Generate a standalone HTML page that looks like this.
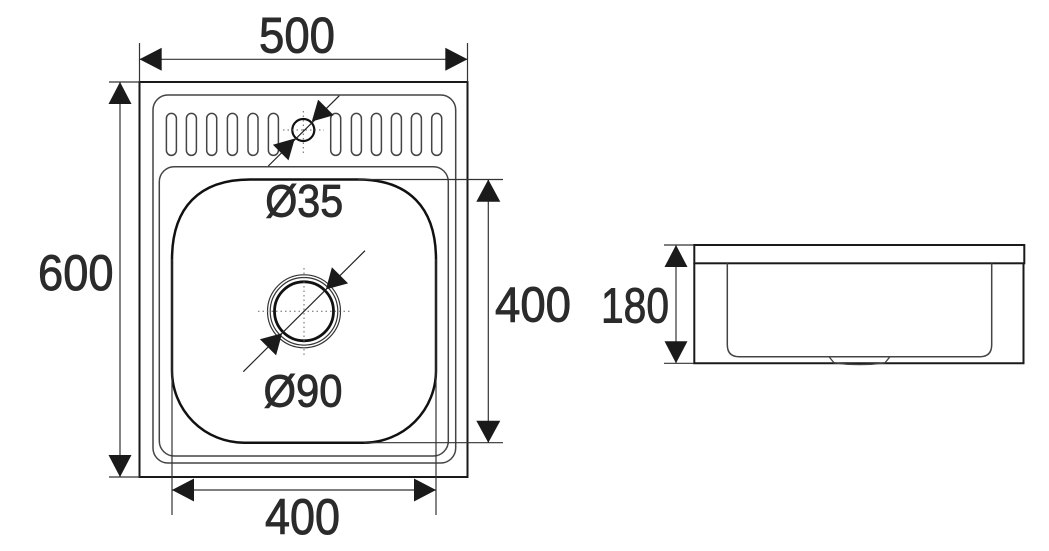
<!DOCTYPE html>
<html>
<head>
<meta charset="utf-8">
<style>
  html, body { margin: 0; padding: 0; background: #fff; }
  svg { display: block; }
  text { font-family: "Liberation Sans", "DejaVu Sans", sans-serif; fill: #2b2b2b; stroke: #2b2b2b; stroke-width: 0.9; }
</style>
</head>
<body>
<svg width="1049" height="551" viewBox="0 0 1049 551" xmlns="http://www.w3.org/2000/svg">
  <rect width="1049" height="551" fill="#fff"/>

  <g fill="none">
    <!-- outer sink body -->
    <rect x="139.5" y="82" width="328" height="395" stroke="#1a1a1a" stroke-width="2"/>
    <!-- rims -->
    <rect x="153" y="95" width="302.7" height="368" rx="15" stroke="#444" stroke-width="1.5"/>
    <rect x="159.3" y="166.7" width="289" height="289.3" rx="15" stroke="#444" stroke-width="1.5"/>

    <!-- slots -->
    <g stroke="#444" stroke-width="1.5">
      <rect x="166.4" y="113.4" width="10" height="42" rx="5"/>
      <rect x="186.4" y="113.4" width="10" height="42" rx="5"/>
      <rect x="206.7" y="113.4" width="10" height="42" rx="5"/>
      <rect x="227.4" y="113.4" width="10" height="42" rx="5"/>
      <rect x="248" y="113.4" width="10" height="42" rx="5"/>
      <rect x="268.4" y="113.4" width="10" height="42" rx="5"/>
      <rect x="330.7" y="113.4" width="10" height="42" rx="5"/>
      <rect x="351.4" y="113.4" width="10" height="42" rx="5"/>
      <rect x="371.4" y="113.4" width="10" height="42" rx="5"/>
      <rect x="391.4" y="113.4" width="10" height="42" rx="5"/>
      <rect x="411.4" y="113.4" width="10" height="42" rx="5"/>
      <rect x="431.7" y="113.4" width="10" height="42" rx="5"/>
    </g>

    <!-- bowl -->
    <path d="M172,259.5 C172,207.5 199.3,179.5 250,179.5 H358 C408.7,179.5 436,207.5 436,259.5 V370.7 A72,72 0 0 1 364,442.7 H244 A72,72 0 0 1 172,370.7 Z" stroke="#111" stroke-width="2.5"/>

    <!-- tap hole Ø35 -->
    <circle cx="303.3" cy="130" r="11" stroke="#111" stroke-width="2.2"/>
    <g stroke="#666" stroke-width="1" stroke-dasharray="1.5 3">
      <line x1="283" y1="130" x2="324" y2="130"/>
      <line x1="303.3" y1="111" x2="303.3" y2="153"/>
    </g>
    <line x1="268.3" y1="166" x2="339.3" y2="95.7" stroke="#222" stroke-width="1.2"/>

    <!-- drain Ø90 -->
    <circle cx="304" cy="311.3" r="36.5" stroke="#333" stroke-width="1.2"/>
    <circle cx="304" cy="311.3" r="33.8" stroke="#333" stroke-width="1.2"/>
    <circle cx="304" cy="311.3" r="29.5" stroke="#111" stroke-width="2.8"/>
    <g stroke="#666" stroke-width="1" stroke-dasharray="1.5 3">
      <line x1="258" y1="311.3" x2="352" y2="311.3"/>
      <line x1="304" y1="268" x2="304" y2="355"/>
    </g>
    <line x1="243.3" y1="371.7" x2="365" y2="250.7" stroke="#222" stroke-width="1.2"/>

    <!-- dimension lines & extension lines -->
    <g stroke="#333" stroke-width="1.2">
      <!-- 500 -->
      <line x1="139.5" y1="43" x2="139.5" y2="82"/>
      <line x1="467.5" y1="43" x2="467.5" y2="82"/>
      <line x1="139.5" y1="59.3" x2="467.5" y2="59.3"/>
      <!-- 600 -->
      <line x1="109" y1="82" x2="139.5" y2="82"/>
      <line x1="109" y1="477" x2="139.5" y2="477"/>
      <line x1="120" y1="82" x2="120" y2="477"/>
      <!-- 400 right -->
      <line x1="358" y1="179.5" x2="503" y2="179.5"/>
      <line x1="364" y1="442.7" x2="503" y2="442.7"/>
      <line x1="488.3" y1="179.5" x2="488.3" y2="442.7"/>
      <!-- 400 bottom -->
      <line x1="172" y1="259" x2="172" y2="515"/>
      <line x1="436" y1="259" x2="436" y2="515"/>
      <line x1="172" y1="490" x2="436" y2="490"/>
      <!-- 180 -->
      <line x1="664" y1="245" x2="694" y2="245"/>
      <line x1="664" y1="363.3" x2="694" y2="363.3"/>
      <line x1="676" y1="245" x2="676" y2="363.3"/>
    </g>

    <!-- side view -->
    <rect x="694.3" y="245" width="330" height="18.3" stroke="#1a1a1a" stroke-width="2"/>
    <path d="M694.3,263.3 V363.3 H1023.5 V263.3" stroke="#1a1a1a" stroke-width="2"/>
    <path d="M727.3,263.3 V344.7 Q727.3,356.7 739.3,356.7 H979.7 Q991.7,356.7 991.7,344.7 V263.3" stroke="#444" stroke-width="1.5"/>
    <path d="M829,356.7 L834,362.8 Q859.5,366.5 885,362.8 L890,356.7" stroke="#444" stroke-width="1.3"/>
  </g>

  <!-- arrowheads -->
  <g fill="#1a1a1a">
    <!-- 500 -->
    <polygon points="139.5,59.3 161.7,47.8 161.7,70.8"/>
    <polygon points="467.5,59.3 445.3,47.8 445.3,70.8"/>
    <!-- 600 -->
    <polygon points="120,82 108.5,104 131.5,104"/>
    <polygon points="120,477 108.5,455 131.5,455"/>
    <!-- 400 right -->
    <polygon points="488.3,179.5 476.3,201.7 500.3,201.7"/>
    <polygon points="488.3,442.7 476.3,420.7 500.3,420.7"/>
    <!-- 400 bottom -->
    <polygon points="172,490 194,478.5 194,501.5"/>
    <polygon points="436,490 414,478.5 414,501.5"/>
    <!-- 180 -->
    <polygon points="676,245 664.5,267 687.5,267"/>
    <polygon points="676,363.3 664.5,341.3 687.5,341.3"/>
    <!-- Ø35 -->
    <polygon points="311.8,121.5 333.7,115.2 318.1,99.6"/>
    <polygon points="294.8,138.5 288.5,160.4 272.9,144.8"/>
    <!-- Ø90 -->
    <polygon points="325.9,289.4 348.1,283.4 331.9,267.2"/>
    <polygon points="282.1,333.2 276.1,355.4 259.9,339.2"/>
  </g>

  <!-- labels -->
  <text x="297" y="52.3" font-size="50" text-anchor="middle" textLength="76" lengthAdjust="spacingAndGlyphs">500</text>
  <text x="75.8" y="290" font-size="50" text-anchor="middle" textLength="75.5" lengthAdjust="spacingAndGlyphs">600</text>
  <text x="304.2" y="216.7" font-size="45.5" text-anchor="middle" textLength="78" lengthAdjust="spacingAndGlyphs">Ø35</text>
  <text x="303" y="406.7" font-size="45.5" text-anchor="middle" textLength="79" lengthAdjust="spacingAndGlyphs">Ø90</text>
  <text x="533" y="321.7" font-size="49" text-anchor="middle" textLength="76" lengthAdjust="spacingAndGlyphs">400</text>
  <text x="635" y="322.7" font-size="49" text-anchor="middle" textLength="68" lengthAdjust="spacingAndGlyphs">180</text>
  <text x="302.5" y="534" font-size="50" text-anchor="middle" textLength="75" lengthAdjust="spacingAndGlyphs">400</text>
</svg>
</body>
</html>
